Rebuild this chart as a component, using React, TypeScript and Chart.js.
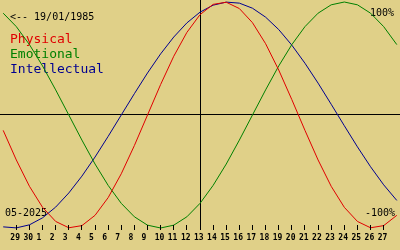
import React, { useEffect, useRef } from "react";
import { Chart, registerables } from "chart.js";

Chart.register(...registerables);

// Days shown (28 Apr .. 28 May 2025); index 15 is "today" (13 May)
const dayLabels = [
  "28", "29", "30", "1", "2", "3", "4", "5", "6", "7", "8", "9", "10", "11", "12",
  "13", "14", "15", "16", "17", "18", "19", "20", "21", "22", "23", "24", "25", "26", "27", "28",
];
const todayIndex = 15;

const physical = [
  -0.136, -0.398, -0.631, -0.817, -0.942, -0.998, -0.979, -0.888, -0.731, -0.52, -0.27,
  0, 0.27, 0.52, 0.731, 0.888, 0.979, 0.998, 0.942, 0.817, 0.631, 0.398, 0.136,
  -0.136, -0.398, -0.631, -0.817, -0.942, -0.998, -0.979, -0.888,
];
const emotional = [
  0.901, 0.782, 0.623, 0.434, 0.222, 0, -0.222, -0.434, -0.623, -0.782, -0.901,
  -0.975, -1, -0.975, -0.901, -0.782, -0.623, -0.434, -0.222, 0, 0.222, 0.434,
  0.623, 0.782, 0.901, 0.975, 1, 0.975, 0.901, 0.782, 0.623,
];
const intellectual = [
  -0.99, -0.999, -0.972, -0.91, -0.815, -0.69, -0.541, -0.372, -0.189, 0, 0.189,
  0.372, 0.541, 0.69, 0.815, 0.91, 0.972, 0.999, 0.99, 0.945, 0.866, 0.756, 0.618,
  0.458, 0.282, 0.095, -0.095, -0.282, -0.458, -0.618, -0.756,
];

const seriesNames = ["Physical", "Emotional", "Intellectual"];
const seriesColors = ["#e00000", "#008000", "#000090"];
const birthText = "<-- 19/01/1985";
const monthText = "05-2025";
const topText = "100%";
const bottomText = "-100%";

const BG = "#e0d088";
const MONO = "'DejaVu Sans Mono', monospace";

const overlayPlugin = {
  id: "bioOverlay",
  beforeDraw(chart: any) {
    const ctx = chart.ctx;
    ctx.save();
    ctx.fillStyle = BG;
    ctx.fillRect(0, 0, chart.width, chart.height);
    ctx.restore();
  },
  beforeDatasetsDraw(chart: any) {
    const ctx = chart.ctx;
    const xs = chart.scales.x;
    const ys = chart.scales.y;
    ctx.save();
    ctx.textBaseline = "alphabetic";
    ctx.textAlign = "left";
    ctx.fillStyle = "#000000";
    ctx.font = `10px ${MONO}`;
    ctx.fillText(birthText, 10, 20);
    ctx.fillText(monthText, 5, 216);
    ctx.fillText(topText, 370, 16);
    ctx.fillText(bottomText, 365, 216);
    ctx.font = `13px ${MONO}`;
    const base = [43, 58, 73];
    seriesNames.forEach((n, i) => {
      ctx.fillStyle = seriesColors[i];
      ctx.fillText(n, 10, base[i]);
    });
    ctx.strokeStyle = "#000000";
    ctx.lineWidth = 1;
    const y0 = Math.floor(ys.getPixelForValue(0)) + 0.5;
    ctx.beginPath();
    ctx.moveTo(0, y0);
    ctx.lineTo(chart.width, y0);
    ctx.stroke();
    const xt = Math.floor(xs.getPixelForValue(todayIndex)) + 0.5;
    ctx.beginPath();
    ctx.moveTo(xt, 0);
    ctx.lineTo(xt, 229);
    ctx.stroke();
    ctx.restore();
  },
  afterDraw(chart: any) {
    // day tick marks at the x scale's positions
    const ctx = chart.ctx;
    const xs = chart.scales.x;
    const top = chart.chartArea.bottom;
    ctx.save();
    ctx.strokeStyle = "#000000";
    ctx.lineWidth = 1;
    ctx.beginPath();
    for (let i = 1; i < dayLabels.length - 1; i++) {
      const x = Math.floor(xs.getPixelForValue(i)) + 0.5;
      ctx.moveTo(x, top);
      ctx.lineTo(x, top + 5);
    }
    ctx.stroke();
    ctx.restore();
  },
};

export default function App() {
  const ref = useRef<HTMLCanvasElement | null>(null);
  useEffect(() => {
    if (!ref.current) return;
    const mk = (label: string, data: number[], color: string) => ({
      label,
      data,
      borderColor: color,
      backgroundColor: color,
      borderWidth: 1,
      pointRadius: 0,
      tension: 0,
      fill: false,
      clip: false as any,
    });
    const chart = new Chart(ref.current, {
      type: "line",
      data: {
        labels: dayLabels,
        datasets: [
          mk(seriesNames[0], physical, seriesColors[0]),
          mk(seriesNames[1], emotional, seriesColors[1]),
          mk(seriesNames[2], intellectual, seriesColors[2]),
        ],
      },
      options: {
        animation: false,
        responsive: false,
        devicePixelRatio: 1,
        layout: { padding: { top: 2, bottom: 4, left: 0, right: 0 } },
        plugins: { legend: { display: false }, tooltip: { enabled: false } },
        scales: {
          x: {
            type: "category",
            offset: false,
            border: { display: false },
            grid: {
              drawOnChartArea: false,
              drawTicks: true,
              tickLength: 5,
              lineWidth: 1,
              color: (c: any) =>
                c.index === 0 || c.index === dayLabels.length - 1 ? "rgba(0,0,0,0)" : "#000000",
            },
            ticks: {
              autoSkip: false,
              maxRotation: 0,
              minRotation: 0,
              padding: 3.2,
              align: "start",
              labelOffset: -6,
              color: "#000000",
              font: { family: MONO, size: 8, weight: "bold", lineHeight: 1.2 },
              callback: (_v: any, i: number) =>
                i === 0 || i === dayLabels.length - 1 ? "" : dayLabels[i],
            },
          },
          y: {
            display: false,
            min: -0.9735,
            max: 1,
          },
        },
      },
      plugins: [overlayPlugin],
    } as any);
    return () => chart.destroy();
  }, []);
  return (
    <div style={{ position: "fixed", left: 0, top: 0, width: 400, height: 250, background: BG }}>
      <canvas ref={ref} width={400} height={250} style={{ display: "block" }} />
    </div>
  );
}
